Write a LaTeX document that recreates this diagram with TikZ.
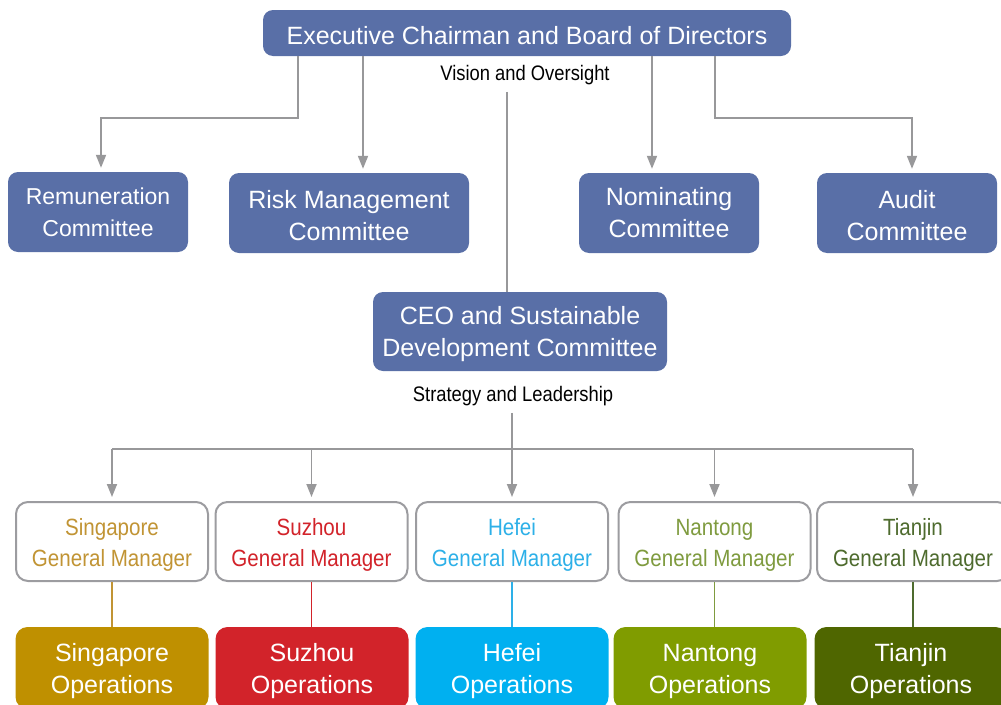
\documentclass[tikz,border=0pt]{standalone}
\usepackage{fontspec}
\setmainfont{Liberation Sans}
\newfontfamily\narrowfont[FakeStretch=0.875]{Liberation Sans}
\usetikzlibrary{positioning,arrows.meta}

\definecolor{boardblue}{RGB}{89,111,167}
\definecolor{linkgray}{RGB}{152,152,154}
\definecolor{gmgray}{RGB}{156,156,160}
\definecolor{sgfill}{RGB}{191,144,0}
\definecolor{sgtext}{RGB}{193,148,52}
\definecolor{szfill}{RGB}{210,35,42}
\definecolor{sztext}{RGB}{210,35,42}
\definecolor{hffill}{RGB}{0,176,240}
\definecolor{hftext}{RGB}{45,176,232}
\definecolor{ntfill}{RGB}{128,156,0}
\definecolor{nttext}{RGB}{127,155,63}
\definecolor{tjfill}{RGB}{79,102,0}
\definecolor{tjtext}{RGB}{78,107,46}

\newcommand{\topline}{\rule{0pt}{23.5pt}}

\tikzset{
	board/.style={fill=boardblue, text=white, rounded corners=10pt, align=center,
		inner sep=0pt, font=\fontsize{25}{32}\selectfont},
	gmbox/.style={draw=gmgray, line width=2pt, fill=white, rounded corners=12pt,
		minimum width=192pt, minimum height=79pt, align=center, inner sep=0pt,
		font=\narrowfont\fontsize{23.5}{31}\selectfont},
	opsbox/.style={text=white, rounded corners=12pt, minimum width=193pt,
		minimum height=82pt, align=center, inner sep=0pt,
		font=\fontsize{25}{32}\selectfont},
	caption/.style={inner sep=2pt, font=\narrowfont\fontsize{21}{25}\selectfont},
	link/.style={draw=linkgray, line width=1.8pt},
	linkarr/.style={link, -{Triangle[length=13pt, width=10pt]}, shorten >=4pt}
}

\begin{document}
\begin{tikzpicture}[x=1pt, y=-1pt]
	\useasboundingbox (0,0) rectangle (1001,704);
	\clip (0,0) rectangle (1001,704);
	\begin{scope}
		\node[board, minimum width=528pt, minimum height=46pt] (exec) at (527,33) {\topline Executive Chairman and Board of Directors};
		\node[caption] (vis) at (525,75) {Vision and Oversight};

		\node[board, minimum width=180pt, minimum height=80pt, font=\fontsize{23}{32}\selectfont] (rem) at (98,212) {Remuneration\\Committee};
		\node[board, minimum width=240pt, minimum height=80pt] (risk) at (349,213) {\topline Risk Management\\Committee};
		\node[board, minimum width=180pt, minimum height=80pt] (nom) at (669,213) {Nominating\\Committee};
		\node[board, minimum width=180pt, minimum height=80pt] (aud) at (907,213) {\topline Audit\\Committee};

		\node[board, minimum width=294pt, minimum height=79pt] (ceo) at (520,331.5) {\topline CEO and Sustainable\\Development Committee};
		\node[caption] (strat) at (513,396) {Strategy and Leadership};
		\coordinate (bus) at (512,449);

		\node[gmbox, text=sgtext] (sggm) at (112,541.5) {\topline Singapore\\General Manager};
		\node[gmbox, text=sztext] (szgm) at (311.5,541.5) {\topline Suzhou\\General Manager};
		\node[gmbox, text=hftext] (hfgm) at (512,541.5) {\topline Hefei\\General Manager};
		\node[gmbox, text=nttext] (ntgm) at (714.5,541.5) {\topline Nantong\\General Manager};
		\node[gmbox, text=tjtext] (tjgm) at (913,541.5) {\topline Tianjin\\General Manager};

		\node[opsbox, fill=sgfill] (sgops) at (112,668) {\topline Singapore\\Operations};
		\node[opsbox, fill=szfill] (szops) at (312,668) {\topline Suzhou\\Operations};
		\node[opsbox, fill=hffill] (hfops) at (512,668) {\topline Hefei\\Operations};
		\node[opsbox, fill=ntfill] (ntops) at (710,668) {\topline Nantong\\Operations};
		\node[opsbox, fill=tjfill] (tjops) at (911,668) {\topline Tianjin\\Operations};

		\draw[linkarr] ([xshift=-229pt]exec.south) -- ++(0,62) -| ([xshift=3pt]rem.north);
		\draw[linkarr] ([xshift=-164pt]exec.south) -- ([xshift=-164pt]exec.south |- risk.north);
		\draw[linkarr] ([xshift=125pt]exec.south) -- ([xshift=125pt]exec.south |- nom.north);
		\draw[linkarr] ([xshift=188pt]exec.south) -- ++(0,62) -| ([xshift=5pt]aud.north);
		\draw[link, shorten <=5pt] ([xshift=-18pt]vis.south) -- ([xshift=-18pt]vis.south |- ceo.north);

		\draw[link] (sggm.north |- bus) -- (tjgm.north |- bus);
		\draw[linkarr, shorten <=5pt] (strat.south -| hfgm.north) -- (hfgm.north);
		\foreach \g in {sggm, szgm, ntgm, tjgm}
			\draw[linkarr] (\g.north |- bus) -- (\g.north);

		\draw[sgtext, line width=1.3pt] (sggm.south) -- (sgops.north -| sggm.south);
		\draw[sztext, line width=1.3pt] (szgm.south) -- (szops.north -| szgm.south);
		\draw[hftext, line width=1.3pt] (hfgm.south) -- (hfops.north -| hfgm.south);
		\draw[nttext, line width=1.3pt] (ntgm.south) -- (ntops.north -| ntgm.south);
		\draw[tjtext, line width=1.3pt] (tjgm.south) -- (tjops.north -| tjgm.south);
	\end{scope}
\end{tikzpicture}
\end{document}
